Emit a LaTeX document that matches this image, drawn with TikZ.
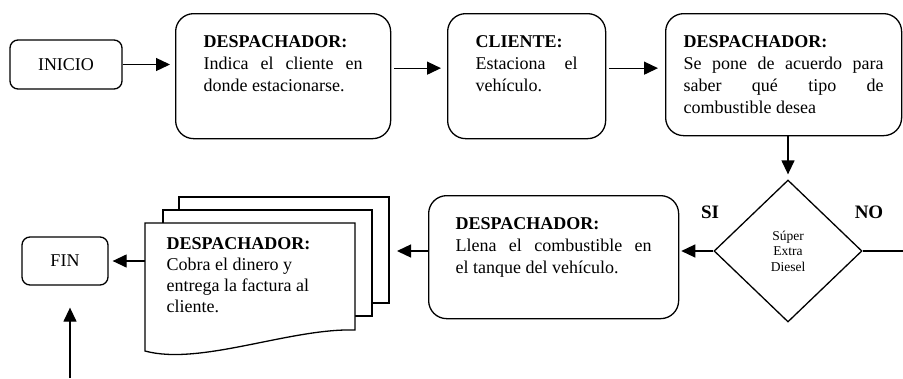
\documentclass[tikz,border=0pt]{standalone}
\usepackage{fontspec}
\setmainfont{Liberation Serif}
\usetikzlibrary{shapes.geometric,arrows.meta}

\hyphenpenalty=10000
\exhyphenpenalty=10000
% caja de texto alineada arriba: ancho, alto, contenido
\newcommand{\textocaja}[3]{\parbox[t][#2][t]{#1}{#3}}

\begin{document}
\begin{tikzpicture}[x=1pt, y=1pt, line width=1.3pt,
  every node/.style={font=\fontsize{18}{22}\selectfont},
  caja/.style={draw, rounded corners=18pt, anchor=north west, inner ysep=22pt},
  terminal/.style={draw, rounded corners=8pt, inner sep=0pt},
  flecha/.style={-{Triangle[length=14pt,width=13pt]}}]

\useasboundingbox (0,0) rectangle (903,-378);

% --- Coordenadas explícitas ---
\coordinate (delante) at (145,-223); % hoja de adelante
\coordinate (medio)   at (163,-210); % hoja del medio
\coordinate (atras)   at (179,-197); % hoja de atrás
\coordinate (salida)  at (903,-251); % rama NO
\coordinate (entrada) at (70,-378);  % llegada desde abajo

% --- Fila de arriba ---
\node[terminal, minimum width=112pt, minimum height=49pt] (inicio) at (66,-64.5) {INICIO};

\node[caja, inner xsep=28pt] (desp1) at (175,-13)
  {\textocaja{159pt}{81pt}{\textbf{DESPACHADOR:}\\
   Indica el cliente en\linebreak donde estacionarse.}};

\node[caja, inner xsep=28pt] (cliente) at (447,-13)
  {\textocaja{102pt}{81pt}{\textbf{CLIENTE:}\\
   Estaciona el\linebreak vehículo.}};

\node[caja, inner xsep=18pt] (desp2) at (665,-13)
  {\textocaja{200pt}{78pt}{\textbf{DESPACHADOR:}\\
   Se pone de acuerdo para\linebreak saber qué tipo de\linebreak combustible desea}};

% --- Decisión ---
\node[draw, diamond, minimum width=148pt, minimum height=142pt, inner sep=0pt,
  align=center, font=\fontsize{13.5}{15.5}\selectfont] (rombo) at (788,-251)
  {Súper\\Extra\\Diesel};
\node[font=\bfseries\fontsize{19}{22}\selectfont] (si) at (710,-212) {SI};
\node[font=\bfseries\fontsize{19}{22}\selectfont] (no) at (869,-212) {NO};

\node[caja, inner xsep=27pt] (desp3) at (428,-195)
  {\textocaja{196pt}{79pt}{\textbf{DESPACHADOR:}\\
   Llena el combustible en\linebreak el tanque del vehículo.}};

% --- Documentos (tres hojas) ---
\draw[fill=white] (atras) rectangle (389,-303);
\draw[fill=white] (medio) rectangle (372,-316);
\draw[fill=white] (delante) -- (355,-223) -- (355,-330)
  .. controls (290,-328) and (200,-366) .. (145,-351) -- cycle;
\node[anchor=north west, inner sep=0pt, align=left,
  font=\fontsize{18}{21}\selectfont] (cobro) at (166,-237)
  {\textbf{DESPACHADOR:}\\Cobra el dinero y\\entrega la factura al\\cliente.};

\node[terminal, minimum width=86pt, minimum height=48pt] (fin) at (65,-261) {FIN};

% --- Flechas ---
\coordinate (a1) at ([xshift=3pt,yshift=8pt]desp1.east);
\coordinate (a2) at ([xshift=3pt,yshift=8pt]cliente.east);
\draw[flecha, shorten >=5pt] (inicio.east) -- (inicio.east -| desp1.west);
\draw[flecha] (a1) -- ([xshift=-6pt]cliente.west |- a1);
\draw[flecha] (a2) -- ([xshift=-7pt]desp2.west |- a2);
\draw[flecha, shorten >=5pt] (desp2.south -| rombo.north) -- (rombo.north);
\draw[flecha, shorten >=2pt] (rombo.west) -- (rombo.west -| desp3.east);
\draw (rombo.east) -- (salida);
\draw[flecha] (desp3.west |- rombo.west) -- ([xshift=8pt]rombo.west -| 389,0);
\draw[flecha, shorten >=4pt] (fin.east -| delante) -- (fin.east);
\draw[flecha, shorten >=22pt] (entrada) -- (entrada |- fin.south);

\end{tikzpicture}
\end{document}
